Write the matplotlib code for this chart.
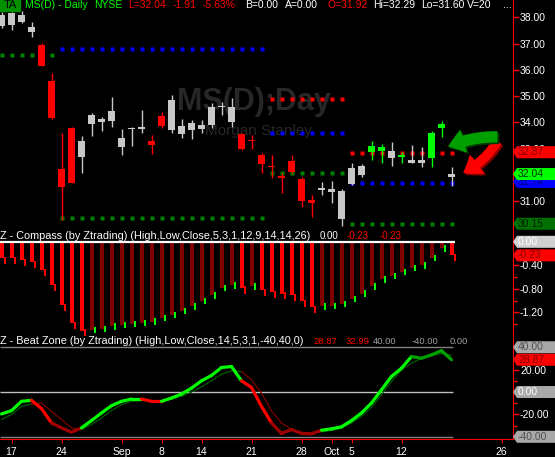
import matplotlib
matplotlib.use("Agg")
import matplotlib.pyplot as plt
import matplotlib.transforms as mtransforms
from matplotlib.path import Path
from matplotlib.patches import Rectangle, FancyArrowPatch

plt.rcParams['font.family'] = ['Liberation Sans', 'DejaVu Sans']

# MS daily bars, 14 Aug .. 19 Oct 2015
opens = [37.67, 37.71, 37.83, 37.45, 36.95, 35.58, 32.23, 33.80, 32.70, 33.94, 34.03, 34.07,
         33.08, 33.74, 33.75, 33.30, 34.25, 33.71, 33.56, 33.73, 33.75, 33.90, 34.58, 34.03,
         33.56, 33.33, 32.76, 32.35, 31.94, 32.54, 31.84, 31.05, 31.43, 31.37, 30.33, 31.66,
         32.00, 32.89, 32.93, 32.66, 32.70, 32.47, 32.47, 32.66, 33.80, 31.92]
highs = [38.20, 38.21, 38.24, 37.81, 37.03, 35.89, 33.61, 33.82, 33.49, 34.37, 34.20, 34.98,
         33.74, 33.82, 34.48, 33.52, 34.41, 35.05, 34.12, 34.10, 34.10, 34.75, 34.79, 34.92,
         33.59, 33.52, 32.83, 32.76, 32.09, 32.76, 31.92, 31.24, 31.73, 31.78, 31.46, 32.47,
         32.41, 33.30, 33.18, 33.25, 32.89, 33.14, 33.06, 33.68, 34.06, 32.29]
lows = [37.59, 37.52, 37.79, 37.24, 36.14, 34.12, 30.29, 31.69, 32.09, 33.49, 33.69, 33.84,
        32.76, 33.11, 33.61, 32.80, 33.80, 33.61, 33.42, 33.37, 33.59, 33.78, 34.29, 33.84,
        32.95, 32.98, 32.07, 31.88, 31.33, 32.09, 30.77, 30.40, 31.24, 30.95, 30.08, 31.64,
        31.92, 32.57, 32.45, 32.36, 32.47, 32.45, 32.32, 32.32, 33.46, 31.60]
closes = [38.09, 38.15, 38.09, 37.62, 36.16, 34.18, 31.56, 31.71, 33.30, 34.29, 34.12, 34.44,
          33.42, 33.80, 33.84, 33.14, 33.88, 34.86, 33.87, 33.99, 33.90, 34.60, 34.63, 34.60,
          32.98, 33.30, 32.41, 32.30, 31.90, 32.13, 31.03, 30.95, 31.52, 31.47, 31.40, 32.26,
          32.35, 33.11, 33.07, 32.92, 32.76, 32.57, 32.57, 33.59, 33.94, 32.04]
green_bars = [37, 38, 40, 43, 44]

# dotted levels, one entry per run of bars
run_first = [0, 6, 27, 35]
run_last = [5, 26, 34, 45]
level_red = [None, None, 34.89, 32.83]
level_blue = [None, 36.79, 33.59, 31.69]
level_green = [36.57, 30.36, 32.08, 30.15]

# Z - Compass histogram
compass = [-0.28, -0.28, -0.31, -0.35, -0.48, -0.74, -1.08, -1.38, -1.51, -1.50, -1.48, -1.44,
           -1.42, -1.40, -1.38, -1.36, -1.30, -1.25, -1.18, -1.10, -1.01, -0.91, -0.79, -0.74,
           -0.78, -0.76, -0.82, -0.85, -0.88, -0.91, -1.01, -1.11, -1.10, -1.09, -1.06, -0.97,
           -0.88, -0.76, -0.64, -0.58, -0.51, -0.45, -0.40, -0.28, -0.11, -0.23]

# Z - Beat Zone lines
beat_fast = [-19.6, -16.6, -8.3, -7.4, -14.8, -27.6, -32.0, -35.9, -32.0, -25.5, -18.7, -12.2,
             -8.3, -6.2, -6.2, -8.3, -8.3, -5.4, -1.8, 3.5, 10.0, 14.8, 21.9, 22.8, 10.0, 4.1,
             -12.8, -27.6, -37.0, -33.5, -37.0, -37.3, -34.1, -32.9, -31.1, -25.5, -18.7, -9.8,
             2.0, 13.9, 21.3, 31.7, 30.2, 33.2, 37.0, 28.87]
beat_slow = [-24.6, -20.0, -12.8, -10.7, -9.8, -17.2, -24.6, -32.0, -33.5, -29.0, -23.1, -16.6,
             -11.3, -8.3, -7.5, -7.7, -7.7, -6.0, -3.9, 0.0, 4.7, 10.0, 16.0, 18.9, 18.3, 10.9,
             -0.9, -17.0, -27.6, -33.5, -35.9, -37.0, -35.6, -34.4, -32.0, -27.6, -21.7, -13.7,
             -2.4, 9.4, 19.8, 25.8, 30.2, 32.5, 34.3, 32.99]
beat_state = "GGGRRrrrGGGGGGRRGGGGGGGGRRRrrrrrGGGGGGGGGgggg"

tick_idx = [1, 6, 12, 16, 20, 25, 30, 33, 35, 40, 50]
tick_lbl = ['17', '24', 'Sep', '8', '14', '21', '28', 'Oct', '5', '12', '26']

W, H = 555, 457
fig = plt.figure(figsize=(W / 100, H / 100), dpi=100, facecolor='black')
FS = 7.5
XMIN, XMAX = -0.15, 51.15


def panel(top, bottom):
    ax = fig.add_axes([0, 1 - bottom / H, 513 / W, (bottom - top) / H])
    ax.set_facecolor('black')
    ax.set_xlim(XMIN, XMAX)
    for s in ['left', 'top', 'bottom']:
        ax.spines[s].set_visible(False)
    ax.spines['right'].set_color('red')
    ax.yaxis.tick_right()
    ax.tick_params(axis='y', which='both', colors='red', labelcolor='white',
                   labelsize=FS, length=4, width=1, pad=1)
    ax.tick_params(axis='y', which='minor', length=3)
    ax.tick_params(axis='x', which='both', bottom=False, labelbottom=False)
    return ax


def tag_shape(x0, y0, width, height, mutation_size):
    y0, y1 = y0 - 1, y0 + height + 1
    x0 = x0 - 1
    x1 = x0 + width + 80
    return Path([(x0, y0), (x1, y0), (x1, y1), (x0, y1), (x0 - 4, (y0 + y1) / 2), (x0, y0)],
                closed=True)


def tag(ax, value, text, bg, fg):
    tr = mtransforms.blended_transform_factory(ax.transAxes, ax.transData)
    ax.text(1 + 5 / 513, value, text, transform=tr, ha='left', va='center', fontsize=FS,
            color=fg, clip_on=False, zorder=10,
            bbox=dict(boxstyle=tag_shape, fc=bg, ec='none'))


# ---------------- price panel ----------------
ax1 = panel(0, 232)
ax1.set_ylim(29.836, 38.658)
ax1.set_yticks(range(31, 39))
# 32.00 sits under the last-price tag
ax1.set_yticklabels(['' if v == 32 else '%.2f' % v for v in range(31, 39)])

for k in range(len(run_first)):
    xs = list(range(run_first[k], run_last[k] + 1))
    for lv, c in [(level_red[k], '#ff0000'), (level_blue[k], '#0000ff'),
                  (level_green[k], '#008000')]:
        if lv is not None:
            ax1.plot(xs, [lv] * len(xs), ls='none', marker='s', ms=2.3, mec='none',
                     color=c, zorder=2)

for i in range(len(opens)):
    o, h, l, c = opens[i], highs[i], lows[i], closes[i]
    if i in green_bars:
        col = '#00ff00'
    elif c < o:
        col = '#ff0000'
    else:
        col = '#c8c8c8'
    ax1.vlines(i, l, h, color=col, lw=1, zorder=3)
    ax1.bar(i, max(abs(c - o), 0.05), bottom=min(o, c), width=0.7, color=col, zorder=3)

ax1.text(0.495, 0.56, 'MS(D);Day', transform=ax1.transAxes, fontsize=22,
         fontweight='bold', color='#272727', ha='center', va='center', zorder=1)
ax1.text(0.503, 0.435, 'Morgan Stanley', transform=ax1.transAxes, fontsize=11,
         color='#272727', ha='center', va='center', zorder=1)

# arrows pointing at the last bar
for dx, dy, col in [(0.2, -0.06, '#003800'), (0, 0, '#00a000')]:
    ax1.add_patch(FancyArrowPatch((49.8 + dx, 33.45 + dy), (44.5 + dx, 33.05 + dy),
                                  arrowstyle='simple,head_length=0.9,head_width=1.3,tail_width=0.6',
                                  connectionstyle='arc3,rad=0.12', mutation_scale=12,
                                  color=col, zorder=6, clip_on=False))
for dx, dy, col in [(0.2, -0.06, '#800000'), (0, 0, '#ff0000')]:
    ax1.add_patch(FancyArrowPatch((49.7 + dx, 33.35 + dy), (46.0 + dx, 32.05 + dy),
                                  arrowstyle='simple,head_length=0.9,head_width=1.3,tail_width=0.5',
                                  connectionstyle='arc3,rad=-0.15', mutation_scale=12,
                                  color=col, zorder=5, clip_on=False))

tag(ax1, 32.87, '32.87', '#ff0000', '#800000')
tag(ax1, 31.74, '31.74', '#0000ff', '#000080')
tag(ax1, 32.04, '32.04', '#00ff00', '#003000')
tag(ax1, 30.15, '30.15', '#007000', '#002000')

# ---------------- compass panel ----------------
ax2 = panel(232, 336)
ax2.set_ylim(-1.603, 0.167)
ax2.set_yticks([0, -0.4, -0.8, -1.2])
ax2.set_yticklabels(['', '-0.40', '-0.80', '-1.20'])
ax2.set_yticks([-0.2, -0.6, -1.0, -1.4], minor=True)
for i, v in enumerate(compass):
    rising = i > 0 and v > compass[i - 1]
    ax2.bar(i, v, width=0.4, color='#800000' if rising else '#ff0000', zorder=2)
    if rising:
        ax2.bar(i + 0.3, -0.11, bottom=v + 0.055, width=0.2, color='#00ff00', zorder=2)
    else:
        ax2.bar(i + 0.3, -0.12, bottom=v + 0.02, width=0.2, color='#ff0000', zorder=2)
ax2.hlines(0, XMIN, len(compass) - 0.7, color='white', lw=1.6, zorder=3)
tag(ax2, 0.0, '0.00', '#d0d0d0', 'white')
tag(ax2, -0.23, '-0.23', '#ff0000', '#800000')

# ---------------- beat zone panel ----------------
ax3 = panel(338, 439)
ax3.set_ylim(-41.96, 48.27)
ax3.set_yticks([40, 20, 0, -20, -40])
ax3.set_yticklabels(['', '20.00', '', '-20.00', ''])
ax3.set_yticks([30, 10, -10, -30], minor=True)
n = len(beat_fast)
ax3.hlines([40, -40], XMIN, n - 0.9, color='#808080', lw=1)
ax3.hlines(0, XMIN, n - 0.9, color='#c0c0c0', lw=1)
fast_col = {'G': '#00ff00', 'g': '#00a000', 'R': '#ff0000', 'r': '#a00000'}
slow_col = {'G': '#006400', 'g': '#006400', 'R': '#8b0000', 'r': '#8b0000'}
for k in range(n - 1):
    st = beat_state[k]
    ax3.plot([k, k + 1], [beat_slow[k], beat_slow[k + 1]], color=slow_col[st], lw=0.8,
             solid_capstyle='round', zorder=2)
for k in range(n - 1):
    st = beat_state[k]
    ax3.plot([k, k + 1], [beat_fast[k], beat_fast[k + 1]], color=fast_col[st], lw=2.3,
             solid_capstyle='round', zorder=3)
ax3.spines['bottom'].set_visible(True)
ax3.spines['bottom'].set_color('red')
ax3.set_xticks(tick_idx)
ax3.set_xticklabels(tick_lbl)
ax3.tick_params(axis='x', which='both', bottom=True, labelbottom=True, colors='red',
                labelcolor='white', labelsize=FS, length=3, pad=3)
tag(ax3, 40, '40.00', '#a8a8a8', '#505050')
tag(ax3, 28.87, '28.87', '#ff0000', '#800000')
tag(ax3, 0, '0.00', '#a8a8a8', 'white')
tag(ax3, -40, '-40.00', '#a8a8a8', '#505050')

# ---------------- header lines ----------------
def ftext(x, y, s, col, size=FS):
    fig.text(x / W, 1 - y / H, s, color=col, fontsize=size, va='center', ha='left')

fig.patches.append(Rectangle((0, 1 - 11 / H), 20 / W, 11 / H, transform=fig.transFigure,
                             color='#009000', zorder=1))
fig.text(10 / W, 1 - 5.5 / H, 'TA', color='black', fontsize=FS + 0.5, ha='center', va='center')
for x, s, col in [(25, 'MS(D) - Daily', '#00ff00'), (94, 'NYSE', '#00ff00'),
                  (128, 'L=32.04', '#ff0000'), (173, '-1.91', '#ff0000'),
                  (203, '-5.63%', '#ff0000'), (245, 'B=0.00', 'white'),
                  (285, 'A=0.00', 'white'), (327, 'O=31.92', '#ff0000'),
                  (373, 'Hi=32.29', 'white'), (421, 'Lo=31.60', 'white'),
                  (467, 'V=20', 'white'), (503, '...', 'white')]:
    ftext(x, 5.5, s, col)

ftext(0, 236, 'Z - Compass (by Ztrading) (High,Low,Close,5,3,1,12,9,14,14,26)', 'white', 7.8)
ftext(320, 236, '0.00', 'white', 7)
ftext(347, 236, '-0.23', '#ff0000', 7)
ftext(380, 236, '-0.23', '#ff0000', 7)

ftext(0, 341, 'Z - Beat Zone (by Ztrading) (High,Low,Close,14,5,3,1,-40,40,0)', 'white', 7.8)
ftext(313, 341, '28.87', '#ff0000', 6.8)
ftext(346, 341, '32.99', '#ff0000', 6.8)
ftext(373, 341, '40.00', '#a0a0a0', 6.8)
ftext(412, 341, '-40.00', '#a0a0a0', 6.8)
ftext(450, 341, '0.00', '#a0a0a0', 6.8)

fig.savefig('out.png', dpi=100, facecolor='black')
